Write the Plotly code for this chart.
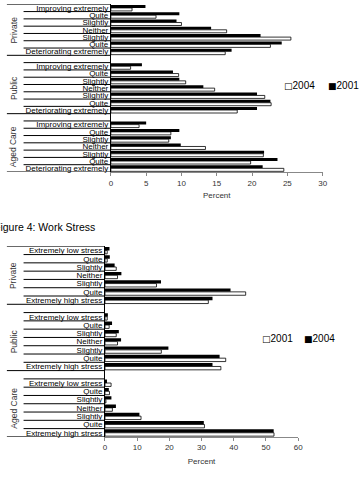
import plotly.graph_objects as go

# ---------------- data ----------------
groups = ["Private", "Public", "Aged Care"]

morale_labels = ["Improving extremely", "Quite", "Slightly", "Neither",
                 "Slightly", "Quite", "Deteriorating extremely"]
morale_private_2001 = [4.9, 9.7, 9.3, 14.2, 21.2, 24.2, 17.1]
morale_private_2004 = [3.0, 6.4, 10.0, 16.4, 25.5, 22.6, 16.2]
morale_public_2001 = [4.4, 8.8, 9.7, 13.1, 20.7, 22.6, 20.7]
morale_public_2004 = [2.8, 9.6, 10.6, 14.7, 21.8, 22.7, 17.9]
morale_aged_2001 = [5.0, 9.7, 8.5, 9.9, 21.7, 23.6, 21.5]
morale_aged_2004 = [4.0, 8.5, 8.2, 13.4, 21.6, 19.8, 24.5]

stress_labels = ["Extremely low stress", "Quite", "Slightly", "Neither",
                 "Slightly", "Quite", "Extremely high stress"]
stress_private_2001 = [0.7, 0.7, 3.5, 3.9, 16.0, 43.7, 32.1]
stress_private_2004 = [1.4, 1.5, 3.0, 5.1, 17.4, 39.0, 33.4]
stress_public_2001 = [0.7, 1.3, 3.5, 3.9, 17.5, 37.5, 36.0]
stress_public_2004 = [0.9, 2.2, 4.3, 5.0, 19.7, 35.6, 33.4]
stress_aged_2001 = [1.9, 1.4, 0.3, 2.3, 11.2, 30.9, 52.5]
stress_aged_2004 = [0.4, 1.2, 2.0, 3.4, 10.7, 30.7, 52.4]

morale_ticks = [0, 5, 10, 15, 20, 25, 30]
stress_ticks = [0, 10, 20, 30, 40, 50, 60]

# ---------------- layout helpers ----------------
W, H = 362, 485
FONT = "Liberation Sans, Arial, sans-serif"


def fx(p):
    return p / W


def fy(p):
    return 1 - p / H


n_items = len(morale_labels)
step = n_items + 1  # one blank row between groups
pos = [g * step + i for g in range(len(groups)) for i in range(n_items)]
last = pos[-1]

fig = go.Figure()


def add_pair(top_vals, low_vals, top_name, low_name, xa, ya):
    fig.add_trace(go.Bar(y=pos, x=top_vals, orientation="h", name=top_name,
                         marker=dict(color="black", line=dict(width=0)),
                         xaxis=xa, yaxis=ya, showlegend=False))
    fig.add_trace(go.Bar(y=pos, x=low_vals, orientation="h", name=low_name,
                         marker=dict(color="white", line=dict(color="black", width=0.8)),
                         xaxis=xa, yaxis=ya, showlegend=False))


add_pair(morale_private_2001 + morale_public_2001 + morale_aged_2001,
         morale_private_2004 + morale_public_2004 + morale_aged_2004,
         "2001", "2004", "x", "y")
add_pair(stress_private_2004 + stress_public_2004 + stress_aged_2004,
         stress_private_2001 + stress_public_2001 + stress_aged_2001,
         "2004", "2001", "x2", "y2")

# plot areas (pixels)
c1 = dict(x0=111, x1=327, top=3.3, bottom=171.7)
c2 = dict(x0=105, x1=302, top=246.3, bottom=437.7)


def xaxis_cfg(c, ticks, rng, anchor, standoff):
    return dict(domain=[fx(c["x0"]), fx(c["x1"])], range=rng, tickvals=ticks,
                ticks="outside", ticklen=3, tickcolor="#888", showline=True,
                linecolor="#888", linewidth=1, showgrid=False, zeroline=False,
                tickfont=dict(size=8, color="#333", family=FONT),
                title=dict(text="Percent", font=dict(size=8, color="#333", family=FONT),
                           standoff=standoff),
                anchor=anchor, fixedrange=True)


def yaxis_cfg(c, labels, anchor):
    return dict(domain=[fy(c["bottom"]), fy(c["top"])], range=[last + 0.5, -0.5],
                tickvals=pos, ticktext=labels * len(groups), ticks="",
                showline=True, linecolor="black", linewidth=1, showgrid=False,
                zeroline=False, tickfont=dict(size=8, color="black", family=FONT),
                anchor=anchor, fixedrange=True)


shapes = []
annotations = []


def legend_text(glyph, label):
    return ("<span style='font-family:DejaVu Sans;font-size:9px'>" + glyph +
            "</span>" + label)


def decorate(c, yref, leg_y, leg_items):
    # row separators in the label column
    for k in range(-1, last + 1):
        b = k + 0.5
        is_group_edge = k == -1 or k == last or (k % step == n_items - 1)
        x_start = 5 if is_group_edge else 22
        shapes.append(dict(type="line", xref="paper", yref=yref, layer="below",
                           x0=fx(x_start), x1=fx(c["x0"]), y0=b, y1=b,
                           line=dict(color="black", width=1)))
    for g, name in enumerate(groups):
        mid = g * step + (n_items - 1) / 2
        annotations.append(dict(text=name, xref="paper", yref=yref, x=fx(12), y=mid,
                                textangle=-90, showarrow=False, xanchor="center",
                                yanchor="middle",
                                font=dict(size=8.5, color="#333", family=FONT)))
    for (xp, glyph, txt) in leg_items:
        annotations.append(dict(text=legend_text(glyph, txt), xref="paper", yref="paper",
                                x=fx(xp), y=fy(leg_y),
                                showarrow=False, xanchor="left", yanchor="middle",
                                font=dict(size=10, color="black", family=FONT)))


decorate(c1, "y", 85, [(286, "\u25a1", "2004"), (330, "\u25a0", "2001")])
decorate(c2, "y2", 339, [(263, "\u25a1", "2001"), (306, "\u25a0", "2004")])

annotations.append(dict(text="Figure 4: Work Stress", xref="paper", yref="paper",
                        x=fx(97), y=fy(227), showarrow=False, xanchor="right",
                        yanchor="middle", font=dict(size=10.5, color="black", family=FONT)))

fig.update_layout(
    width=W, height=H, margin=dict(l=0, r=0, t=0, b=0),
    paper_bgcolor="white", plot_bgcolor="white",
    barmode="group", bargap=0.18, bargroupgap=0,
    xaxis=xaxis_cfg(c1, morale_ticks, [0, 30], "y", 5),
    yaxis=yaxis_cfg(c1, morale_labels, "x"),
    xaxis2=xaxis_cfg(c2, stress_ticks, [0, 60], "y2", 6),
    yaxis2=yaxis_cfg(c2, stress_labels, "x2"),
    shapes=shapes, annotations=annotations,
    showlegend=False,
    font=dict(family=FONT),
)

fig.write_html("out.html")
